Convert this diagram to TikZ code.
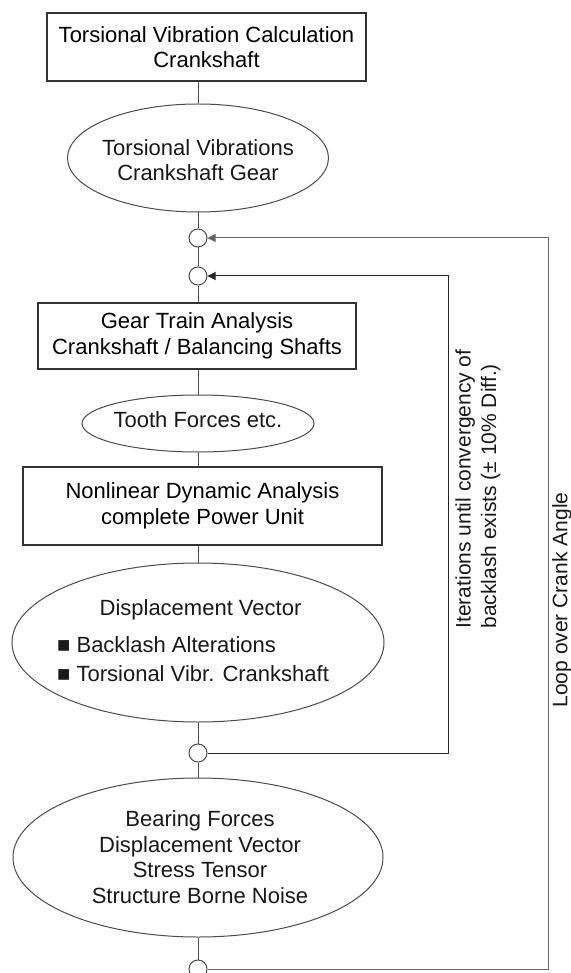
\documentclass[tikz,border=0pt]{standalone}
\usepackage{fontspec}
\setmainfont{Liberation Sans}
\usetikzlibrary{shapes.geometric,arrows.meta}
\newcommand\myfs{\fontsize{22}{25.5}\selectfont}
\newcommand\myrotfs{\fontsize{21}{25.5}\selectfont}
\begin{document}
\begin{tikzpicture}[x=1pt,y=-1pt,
  rbox/.style={draw=black!80, line width=1.1pt, inner sep=0pt, align=center, font=\myfs},
  ell/.style={draw=black!70, line width=1pt, ellipse, inner sep=0pt},
  txt/.style={align=center, font=\myfs, inner sep=0pt, text=black!90},
  junc/.style={draw=black!70, line width=1pt, circle, inner sep=0pt, minimum size=18pt},
  conn/.style={draw=black!70, line width=1pt},
  arr/.style={conn, -{Triangle[length=8pt,width=8pt]}}]
\path[use as bounding box] (0,0) rectangle (570,973);
\clip (0,0) rectangle (570,973);
\fill[white] (0,0) rectangle (570,973);

\node[rbox, minimum width=319pt, minimum height=68pt] (calc) at (206.5,47) {Torsional Vibration Calculation\\Crankshaft};
\node[ell, minimum width=261pt, minimum height=108pt] (tvg) at (198,158) {};
\node[txt] (tvgt) at (198,160) {Torsional Vibrations\\Crankshaft Gear};
\node[junc] (j1) at (198,238) {};
\node[junc] (j2) at (198,276) {};
\node[rbox, minimum width=318pt, minimum height=66pt] (gta) at (197,336) {Gear Train Analysis\\Crankshaft / Balancing Shafts};
\node[ell, minimum width=232pt, minimum height=57pt] (tf) at (198,423.5) {};
\node[txt] (tft) at (198,420) {Tooth Forces etc.};
\node[rbox, minimum width=359pt, minimum height=78pt] (nda) at (202.5,506) {Nonlinear Dynamic Analysis\\complete Power Unit};
\node[ell, minimum width=372pt, minimum height=159pt] (dv) at (198,642.5) {};
\node[txt, anchor=base] (dvt) at (200.5,615) {Displacement Vector};
\node[txt, anchor=base west] (dv1) at (57,652) {■ Backlash Alterations};
\node[txt, anchor=base west] (dv2) at (57,681) {■ Torsional Vibr. Crankshaft};
\node[junc] (j3) at (198,753) {};
\node[ell, minimum width=370pt, minimum height=159pt] (bf) at (198,857.5) {};
\node[txt] (bft) at (200,857) {Bearing Forces\\Displacement Vector\\Stress Tensor\\Structure Borne Noise};
\node[junc] (j4) at (198,969) {};

\coordinate (k1) at (448,753);
\coordinate (k2) at (448,276);
\coordinate (k3) at (548,969);
\coordinate (k4) at (548,238);

\draw[conn] (tvg.north |- calc.south) -- (tvg.north);
\draw[conn] (tvg.south) -- (j1.north);
\draw[conn] (j1.south) -- (j2.north);
\draw[conn] (j2.south) -- (j2.south |- gta.north);
\draw[conn] (tf.north |- gta.south) -- (tf.north);
\draw[conn] (tf.south) -- (tf.south |- nda.north);
\draw[conn] (dv.north |- nda.south) -- (dv.north);
\draw[conn] (dv.south) -- (j3.north);
\draw[conn] (j3.south) -- (bf.north);
\draw[conn] (bf.south) -- (j4.north);
\draw[arr, draw=black!85] (j3.east) -- (k1) -- (k2) -- (j2.east);
\draw[arr, draw=black!60] (j4.east) -- (k3) -- (k4) -- (j1.east);

\node[txt, rotate=90, font=\myrotfs, align=left] (iter) at (478,489) {Iterations until convergency of\\backlash exists (± 10\% Diff.)};
\node[txt, rotate=90, font=\myrotfs] (loop) at (562,600) {Loop over Crank Angle};
\end{tikzpicture}
\end{document}
